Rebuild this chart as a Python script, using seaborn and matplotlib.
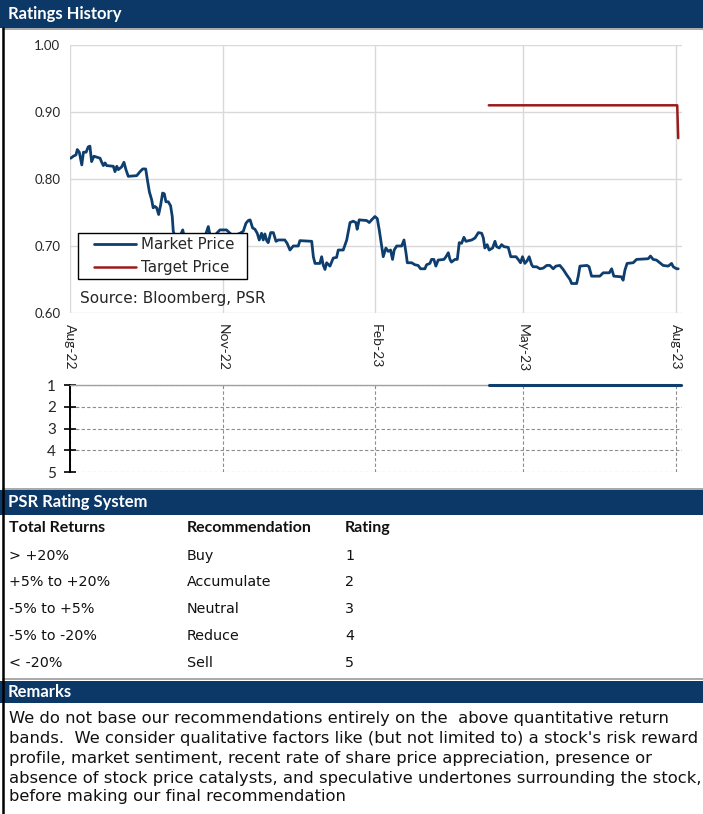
import numpy as np
import pandas as pd
import matplotlib
matplotlib.use("Agg")
import matplotlib.pyplot as plt
import seaborn as sns
from matplotlib.patches import Rectangle
from matplotlib.lines import Line2D
from matplotlib.legend_handler import HandlerLine2D

# ---------------- data ----------------
start_date = "2022-08-01"
price_days = [0.4, 2.0, 3.6, 4.4, 5.6, 7.1, 8.1, 9.7, 11.0, 12.0, 13.0, 14.4, 18.1, 19.1, 20.1, 21.1,
              22.1, 26.1, 27.1, 28.2, 29.1, 31.1, 32.5, 33.7, 35.1, 40.2, 42.2, 43.8, 45.6, 46.6,
              47.8, 49.2, 50.1, 51.2, 52.2, 53.4, 54.6, 55.8, 56.8, 57.8, 59.2, 60.6, 61.6, 62.2,
              63.3, 65.3, 67.9, 69.3, 71.2, 74.2, 78.3, 81.3, 83.3, 84.3, 86.3, 88.4, 90.3, 94.3,
              96.4, 98.4, 102.4, 104.4, 106.0, 107.4, 108.5, 110.0, 111.4, 112.8, 114.0, 115.4,
              116.4, 117.4, 118.5, 119.4, 120.9, 122.5, 124.1, 125.5, 129.4, 130.8, 132.5, 134.5,
              137.5, 138.5, 145.6, 146.6, 147.6, 150.5, 151.6, 152.5, 153.6, 154.6, 156.6, 158.6,
              160.6, 161.6, 164.6, 166.7, 168.7, 170.6, 172.2, 173.0, 174.2, 178.7, 180.3, 181.7,
              183.7, 185.1, 186.3, 187.8, 188.7, 190.3, 191.7, 193.1, 194.3, 195.3, 196.8, 199.8,
              201.2, 202.4, 203.2, 205.8, 207.8, 209.7, 211.2, 213.8, 214.8, 216.8, 217.8, 219.2,
              220.4, 221.8, 225.3, 226.5, 227.9, 228.9, 229.8, 231.9, 233.3, 234.5, 235.9, 237.3,
              238.5, 242.0, 244.0, 246.0, 248.0, 249.0, 249.9, 251.3, 252.5, 254.6, 256.0, 257.0,
              258.6, 260.0, 261.4, 264.0, 265.5, 268.7, 270.0, 271.4, 272.6, 274.0, 275.4, 276.6,
              278.1, 279.0, 281.1, 283.1, 285.1, 287.2, 289.1, 291.1, 292.7, 295.1, 297.1, 299.2,
              301.2, 302.2, 305.2, 306.2, 307.2, 311.5, 312.7, 314.2, 319.2, 321.2, 324.9, 326.3,
              327.6, 332.2, 333.2, 334.3, 335.6, 339.3, 341.3, 348.3, 349.7, 351.3, 353.3, 355.3,
              357.3, 360.4, 362.4, 363.4, 365.4, 366.4]
market_price = [0.831, 0.834, 0.836, 0.844, 0.840, 0.821, 0.840, 0.840, 0.848, 0.849, 0.826, 0.834,
                0.831, 0.825, 0.820, 0.824, 0.820, 0.819, 0.811, 0.819, 0.814, 0.818, 0.825, 0.814,
                0.804, 0.805, 0.811, 0.815, 0.815, 0.799, 0.781, 0.769, 0.757, 0.759, 0.757, 0.747,
                0.761, 0.779, 0.778, 0.766, 0.766, 0.760, 0.744, 0.722, 0.714, 0.709, 0.724, 0.709,
                0.714, 0.712, 0.714, 0.714, 0.729, 0.717, 0.712, 0.719, 0.724, 0.724, 0.719, 0.715,
                0.719, 0.722, 0.734, 0.738, 0.739, 0.727, 0.725, 0.719, 0.709, 0.719, 0.709, 0.718,
                0.708, 0.705, 0.720, 0.720, 0.707, 0.709, 0.709, 0.704, 0.694, 0.700, 0.700, 0.708,
                0.707, 0.684, 0.674, 0.674, 0.684, 0.672, 0.665, 0.675, 0.670, 0.682, 0.683, 0.694,
                0.694, 0.709, 0.735, 0.737, 0.735, 0.725, 0.739, 0.738, 0.735, 0.739, 0.744, 0.741,
                0.724, 0.699, 0.684, 0.697, 0.692, 0.694, 0.680, 0.694, 0.700, 0.700, 0.709, 0.690,
                0.675, 0.675, 0.672, 0.671, 0.666, 0.666, 0.672, 0.674, 0.680, 0.680, 0.670, 0.679,
                0.680, 0.684, 0.690, 0.680, 0.676, 0.680, 0.680, 0.705, 0.704, 0.713, 0.707, 0.709,
                0.712, 0.720, 0.719, 0.712, 0.697, 0.702, 0.694, 0.697, 0.707, 0.699, 0.697, 0.702,
                0.699, 0.698, 0.684, 0.684, 0.680, 0.675, 0.684, 0.674, 0.678, 0.684, 0.672, 0.669,
                0.669, 0.666, 0.667, 0.671, 0.671, 0.666, 0.670, 0.671, 0.665, 0.657, 0.650, 0.644,
                0.644, 0.655, 0.670, 0.671, 0.669, 0.655, 0.655, 0.660, 0.660, 0.666, 0.655, 0.654,
                0.649, 0.664, 0.674, 0.675, 0.680, 0.681, 0.685, 0.680, 0.679, 0.675, 0.671, 0.670,
                0.674, 0.669, 0.666, 0.666]
target_days = [252.3, 365.8, 366.4]
target_price = [0.91, 0.91, 0.861]
rating_days = [252.3, 368.0]
rating_values = [1, 1]

tick_dates = ["2022-08-01", "2022-11-01", "2023-02-01", "2023-05-01", "2023-08-01"]
tick_labels = ["Aug-22", "Nov-22", "Feb-23", "May-23", "Aug-23"]
price_ticks = [0.60, 0.70, 0.80, 0.90, 1.00]
rating_ticks = [1, 2, 3, 4, 5]

table_header = ["Total Returns", "Recommendation", "Rating"]
total_returns = ["> +20%", "+5% to +20%", "-5% to +5%", "-5% to -20%", "< -20%"]
recommendations = ["Buy", "Accumulate", "Neutral", "Reduce", "Sell"]
rating_numbers = ["1", "2", "3", "4", "5"]
remarks_lines = [
    "We do not base our recommendations entirely on the  above quantitative return",
    "bands.  We consider qualitative factors like (but not limited to) a stock's risk reward",
    "profile, market sentiment, recent rate of share price appreciation, presence or",
    "absence of stock price catalysts, and speculative undertones surrounding the stock,",
    "before making our final recommendation",
]

# ---------------- style ----------------
W, H = 703, 814
sns.set_theme(style="white")
plt.rcParams["font.family"] = ["Lato", "DejaVu Sans"]
BODY = ["DejaVu Sans"]
HEAD = ["Lato", "DejaVu Sans"]

NAVY = "#0B3866"
LINE_NAVY = "#0E3E6E"
RED = "#9B1B1B"
GRID = "#D9D9D9"
TXT = "#111111"

fig = plt.figure(figsize=(W / 100, H / 100), dpi=100)
fig.patch.set_facecolor("white")


def fx(x):
    return x / W


def fy(y):
    return 1 - y / H


t0 = pd.Timestamp(start_date)


def to_dates(days):
    return t0 + pd.to_timedelta(np.asarray(days, dtype=float), unit="D")


x_lo = t0
x_hi = t0 + pd.Timedelta(days=368.5)
tick_ts = pd.to_datetime(tick_dates)

# ---------------- frame decorations ----------------
def header(y0, y1, text):
    fig.add_artist(Rectangle((0, fy(y1)), 1, (y1 - y0) / H, transform=fig.transFigure,
                             facecolor=NAVY, edgecolor="none", zorder=0))
    fig.text(fx(8), fy((y0 + y1) / 2), text, color="white", fontsize=12, fontweight="bold",
             va="center", ha="left", family=HEAD, zorder=3)


header(0, 28, "Ratings History")
header(490, 515, "PSR Rating System")
header(681, 703, "Remarks")

for yy in (29, 488.5, 678.5):
    fig.add_artist(Line2D([fx(3), 1], [fy(yy), fy(yy)], transform=fig.transFigure,
                          color="#A8A8A8", lw=1.4, zorder=2))
fig.add_artist(Line2D([fx(3), fx(3)], [0, fy(28)], transform=fig.transFigure,
                      color="black", lw=1.8, zorder=10))

# ---------------- price chart ----------------
AX_L, AX_R, AX_T, AX_B = 70, 681.7, 45, 313
ax_w = (AX_R - AX_L) / W
ax = fig.add_axes([fx(AX_L), fy(AX_B), ax_w, (AX_B - AX_T) / H])
price_df = pd.DataFrame({"date": to_dates(price_days), "price": market_price})
target_df = pd.DataFrame({"date": to_dates(target_days), "price": target_price})
sns.lineplot(data=price_df, x="date", y="price", ax=ax, color=LINE_NAVY, lw=2.0,
             estimator=None, sort=False)
sns.lineplot(data=target_df, x="date", y="price", ax=ax, color=RED, lw=1.8,
             estimator=None, sort=False)
ax.set_xlim(x_lo, x_hi)
ax.set_ylim(0.60, 1.00)
ax.set_yticks(price_ticks)
ax.set_yticklabels([f"{v:.2f}" for v in price_ticks])
ax.set_xticks(tick_ts)
ax.set_xticklabels(tick_labels, rotation=270, ha="center", va="top")
ax.set_xlabel("")
ax.set_ylabel("")
ax.grid(True, color=GRID, lw=1.0)
ax.set_axisbelow(True)
for s in ax.spines.values():
    s.set_visible(False)
ax.tick_params(axis="both", which="major", length=5, width=1, color=GRID,
               labelsize=9.5, labelcolor="#262626", pad=2)
ax.tick_params(axis="x", pad=3, labelsize=10)


class PaddedLine(HandlerLine2D):
    """Legend line that leaves empty space on its left, like the reference."""

    def __init__(self, shift, **kw):
        super().__init__(**kw)
        self.shift = shift

    def create_artists(self, legend, orig_handle, xdescent, ydescent, width, height,
                       fontsize, trans):
        arts = super().create_artists(legend, orig_handle, xdescent, ydescent, width,
                                      height, fontsize, trans)
        for a in arts:
            xd = np.asarray(a.get_xdata(), dtype=float)
            if len(xd) >= 2:
                a.set_xdata(np.linspace(xd[0] + self.shift, xd[-1], len(xd)))
        return arts


def px_ax_x(px):
    return (px - AX_L) / (AX_R - AX_L)


def px_ax_y(py):
    return (AX_B - py) / (AX_B - AX_T)


handles = [Line2D([], [], color=LINE_NAVY, lw=2.0), Line2D([], [], color=RED, lw=1.8)]
leg_fs = 10.8
shift_pt = 12 * 72 / 100
leg = ax.legend(handles, ["Market Price", "Target Price"], loc="upper left",
                bbox_to_anchor=(px_ax_x(78), px_ax_y(278), px_ax_x(247) - px_ax_x(78),
                                px_ax_y(233) - px_ax_y(278)),
                mode="expand", borderaxespad=0, frameon=True, fancybox=False, framealpha=1,
                edgecolor="black", prop={"family": BODY, "size": leg_fs},
                handlelength=3.6, handletextpad=0.35, labelspacing=0.55, borderpad=0.25,
                handler_map={Line2D: PaddedLine(shift_pt)})
leg.get_frame().set_linewidth(1.0)
for t in leg.get_texts():
    t.set_color("#262626")
ax.text(px_ax_x(80), px_ax_y(298), "Source: Bloomberg, PSR",
        transform=ax.transAxes, fontsize=11, color="#262626", va="center", ha="left",
        family=BODY)

# ---------------- rating chart ----------------
axr = fig.add_axes([fx(AX_L), fy(472), ax_w, (472 - 385) / H])
rating_df = pd.DataFrame({"date": to_dates(rating_days), "rating": rating_values})
sns.lineplot(data=rating_df, x="date", y="rating", ax=axr, color=LINE_NAVY, lw=2.2,
             estimator=None, sort=False, clip_on=False, zorder=5)
axr.set_xlim(x_lo, x_hi)
axr.set_ylim(5, 1)
axr.set_yticks(rating_ticks)
axr.set_yticklabels([str(v) for v in rating_ticks])
axr.set_xticks(tick_ts)
axr.set_xlabel("")
axr.set_ylabel("")
axr.tick_params(axis="x", length=0, labelbottom=False)
axr.tick_params(axis="y", direction="inout", length=8, width=1.2, color="black",
                labelsize=11, labelcolor="#262626", pad=6, left=True)
axr.grid(True, axis="both", color="#8C8C8C", lw=0.8, linestyle=(0, (3, 2)))
axr.set_axisbelow(True)
for name, s in axr.spines.items():
    s.set_visible(False)
axr.spines["left"].set_visible(True)
axr.spines["left"].set_color("black")
axr.spines["left"].set_linewidth(1.4)
axr.spines["top"].set_visible(True)
axr.spines["top"].set_color("#A0A0A0")
axr.spines["top"].set_linewidth(1.0)
axr.patch.set_alpha(0)

# ---------------- rating system table ----------------
col_x = [9, 187, 345]
for cx, t in zip(col_x, table_header):
    fig.text(fx(cx), fy(528), t, fontsize=11.5, fontweight="bold", color=TXT,
             va="center", ha="left", family=HEAD)
row_y = [556, 582.5, 609, 636, 663]
for ry, a, b, c in zip(row_y, total_returns, recommendations, rating_numbers):
    for cx, t in zip(col_x, (a, b, c)):
        fig.text(fx(cx), fy(ry), t, fontsize=10.3, color=TXT, va="center", ha="left",
                 family=BODY)

# ---------------- remarks ----------------
renderer = fig.canvas.get_renderer()
probe = fig.text(0, 0, remarks_lines[1], fontsize=10, family=BODY)
probe_w = probe.get_window_extent(renderer).width
probe.remove()
rem_size = 10 * (695 - 9) / probe_w
rem_y = [718, 738.5, 759, 779, 797]
for ry, t in zip(rem_y, remarks_lines):
    fig.text(fx(9), fy(ry), t, fontsize=rem_size, color=TXT, va="center", ha="left",
             family=BODY)

fig.savefig("out.png", dpi=100, facecolor="white")
